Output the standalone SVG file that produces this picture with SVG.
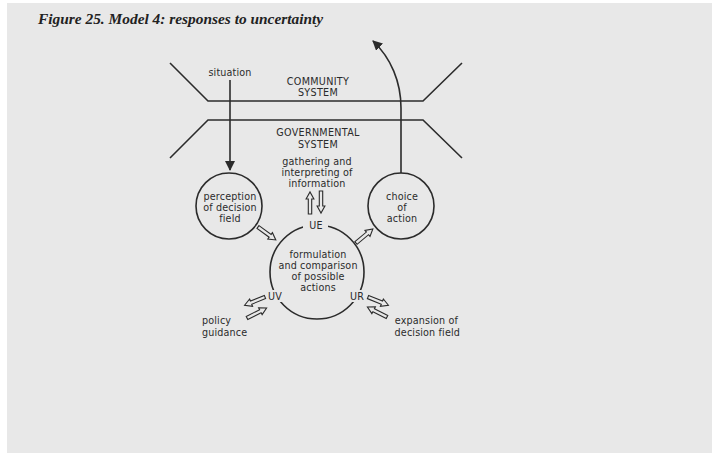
<svg xmlns="http://www.w3.org/2000/svg" xmlns:xlink="http://www.w3.org/1999/xlink" width="712" height="453" viewBox="0 0 712 453">
<style>
.ln{fill:none;stroke:#2b2b2b;stroke-width:1.6}
.nd{fill:none;stroke:#2b2b2b;stroke-width:1.6}
.t{font-family:"DejaVu Sans",sans-serif;font-size:9.6px;fill:#2b2b2b;text-anchor:middle;letter-spacing:0.15px}
.tl{text-anchor:start}
.tr{text-anchor:end}
.caps{font-size:9.6px;letter-spacing:0.3px}
.ha{fill:#e8e8e8;stroke:#2b2b2b;stroke-width:1.1;stroke-linejoin:miter}
.bg{fill:#e8e8e8}
</style>
<defs>
<path id="ha" class="ha" d="M0,-1.7 L15,-1.7 L15,-3.9 L22,0 L15,3.9 L15,1.7 L0,1.7 Z"/>
<marker id="fh" viewBox="0 0 10 10" refX="9" refY="5" markerWidth="10" markerHeight="10" markerUnits="userSpaceOnUse" orient="auto">
<path d="M0,0 L10,5 L0,10 Z" fill="#2b2b2b"/>
</marker>
</defs>
<rect x="0" y="0" width="712" height="453" fill="#ffffff"/>
<rect x="7" y="3" width="705" height="450" fill="#e8e8e8"/>
<text x="38" y="24" font-family="'Liberation Serif',serif" font-style="italic" font-weight="bold" font-size="15.4" fill="#222">Figure 25. Model 4: responses to uncertainty</text>

<g id="community-system">
<path class="ln" d="M170,63 L208,101 L423,101 L462,63"/>
<text class="t caps" x="318" y="85">COMMUNITY</text>
<text class="t caps" x="318" y="96">SYSTEM</text>
</g>
<g id="governmental-system">
<path class="ln" d="M170,158 L208,120 L423,120 L462,158"/>
<text class="t caps" x="318" y="136">GOVERNMENTAL</text>
<text class="t caps" x="318" y="148">SYSTEM</text>
</g>
<g id="situation">
<text class="t" x="230" y="76">situation</text>
</g>
<g id="information">
<text class="t" x="317" y="165">gathering and</text>
<text class="t" x="317" y="176">interpreting of</text>
<text class="t" x="317" y="187">information</text>
</g>
<g id="perception">
<circle class="nd" cx="229" cy="206" r="33"/>
<text class="t" x="230" y="200">perception</text>
<text class="t" x="230" y="211">of decision</text>
<text class="t" x="230" y="222">field</text>
</g>
<g id="choice">
<circle class="nd" cx="401" cy="206" r="33"/>
<text class="t" x="402" y="200">choice</text>
<text class="t" x="402" y="211">of</text>
<text class="t" x="402" y="222">action</text>
</g>
<g id="formulation">
<circle class="nd" cx="317" cy="272" r="47"/>
<rect class="bg" x="303" y="219" width="25" height="12"/>
<rect class="bg" x="263" y="290" width="22" height="12"/>
<rect class="bg" x="346" y="290" width="22" height="12"/>
<text class="t" x="316" y="229">UE</text>
<text class="t" x="275" y="300">UV</text>
<text class="t" x="357" y="300">UR</text>
<text class="t" x="318" y="258">formulation</text>
<text class="t" x="318" y="269">and comparison</text>
<text class="t" x="318" y="280">of possible</text>
<text class="t" x="318" y="291">actions</text>
</g>
<g id="policy-guidance">
<text class="t tl" x="202" y="324">policy</text>
<text class="t tl" x="202" y="336">guidance</text>
</g>
<g id="expansion">
<text class="t tr" x="458" y="324">expansion of</text>
<text class="t tr" x="460" y="336">decision field</text>
</g>

<g id="connectors">
<path class="ln" d="M230,80 L230,170" marker-end="url(#fh)"/>
<path class="ln" d="M401,173 L401,108 C401,82 391,58 373,41" marker-end="url(#fh)"/>
<use xlink:href="#ha" href="#ha" transform="translate(310,214) rotate(-90)"/>
<use xlink:href="#ha" href="#ha" transform="translate(321,191) rotate(90)"/>
<use xlink:href="#ha" href="#ha" transform="translate(258,227) rotate(36)"/>
<use xlink:href="#ha" href="#ha" transform="translate(356,243) rotate(-40)"/>
<use xlink:href="#ha" href="#ha" transform="translate(265,297) rotate(158)"/>
<use xlink:href="#ha" href="#ha" transform="translate(247,318) rotate(-27)"/>
<use xlink:href="#ha" href="#ha" transform="translate(368,297) rotate(22)"/>
<use xlink:href="#ha" href="#ha" transform="translate(387,317) rotate(-153)"/>
</g>
</svg>
